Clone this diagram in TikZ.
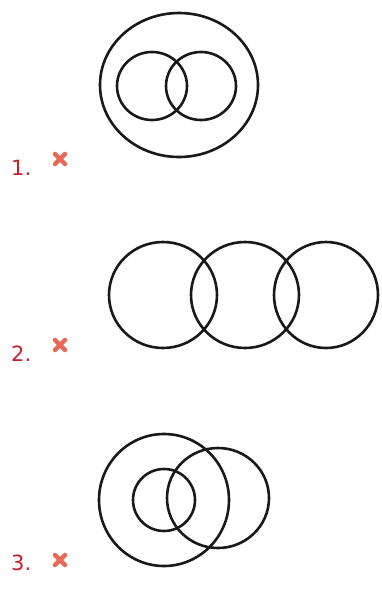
\documentclass[tikz,border=0pt]{standalone}
\usepackage{fontspec}
\setmainfont{DejaVu Sans}
\definecolor{numred}{RGB}{200,30,45}
\definecolor{xred}{RGB}{232,105,85}
\begin{document}
\begin{tikzpicture}[x=1pt,y=-1pt,
  ring/.style={draw=black!90,line width=2.6pt},
  num/.style={text=numred,font=\fontsize{21}{21}\selectfont,inner sep=0pt,anchor=base west},
  xmark/.style={xred,line width=4.5pt,line cap=round}]
\useasboundingbox[fill=white] (0,0) rectangle (381,597);
% diagram 1
\draw[ring] (179,85) ellipse [x radius=79pt,y radius=72pt];
\draw[ring] (152,86) ellipse [x radius=35pt,y radius=34pt];
\draw[ring] (201,86) ellipse [x radius=35pt,y radius=34pt];
% diagram 2
\draw[ring] (163,295) ellipse [x radius=54pt,y radius=53pt];
\draw[ring] (245,295) ellipse [x radius=54pt,y radius=53pt];
\draw[ring] (326,295) ellipse [x radius=52pt,y radius=53pt];
% diagram 3
\draw[ring] (164,500) ellipse [x radius=65pt,y radius=66pt];
\draw[ring] (164,500) ellipse [x radius=31pt,y radius=31pt];
\draw[ring] (218,498) ellipse [x radius=51pt,y radius=50pt];
% labels
\node[num] (n1) at (11,175) {1.};
\node[num] (n2) at (11,361) {2.};
\node[num] (n3) at (11,570) {3.};
\foreach \i/\yy in {1/159,2/345,3/560}{
  \coordinate (c\i) at (60,\yy);
  \draw[xmark] ([shift={(-5,-5)}]c\i) -- ([shift={(5,5)}]c\i);
  \draw[xmark] ([shift={(-5,5)}]c\i) -- ([shift={(5,-5)}]c\i);
}
\end{tikzpicture}
\end{document}
